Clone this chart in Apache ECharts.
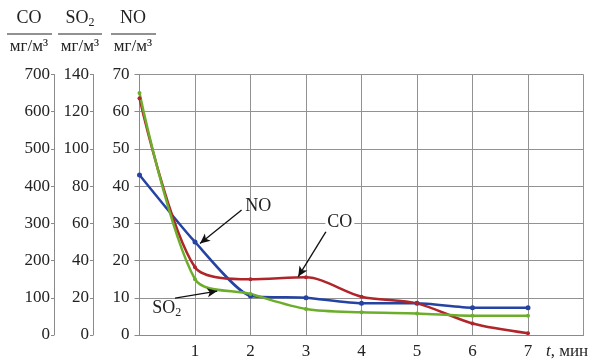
<!DOCTYPE html>
<html>
<head>
<meta charset="utf-8">
<script src="https://cdn.jsdelivr.net/npm/echarts@6/dist/echarts.min.js"></script>
<style>
  html, body { margin: 0; padding: 0; background: #fff; }
  #chart { width: 592px; height: 361px; }
</style>
</head>
<body>
<div id="chart"></div>
<script>
// data (t in minutes)
const timeValues = [0, 1, 2, 3, 4, 5, 6, 7]
const noValues = [43, 25, 10.5, 10, 8.5, 8.5, 7.3, 7.3]        // мг/м3, NO axis 0..70
const so2Values = [130, 30, 22, 14, 12.2, 11.6, 10.4, 10.3]    // мг/м3, SO2 axis 0..140
const coValues = [636, 182, 150, 155, 103, 85, 31, 5]          // мг/м3, CO axis 0..700
const xTickLabels = ['1', '2', '3', '4', '5', '6', '7']

const FONT = '"Liberation Serif", "DejaVu Serif", serif'
const AXIS_GRAY = '#8a8a8a'

const pairs = (vals) => timeValues.map((t, i) => [t, vals[i]])

const chart = echarts.init(document.getElementById('chart'))

// side axes (SO2 / CO) share the same look
const sideAxis = (max, interval, offset) => ({
  type: 'value',
  position: 'left',
  min: 0,
  max: max,
  interval: interval,
  offset: offset,
  axisLine: { show: true, lineStyle: { color: AXIS_GRAY, width: 1 } },
  axisTick: { show: true, length: 3, lineStyle: { color: AXIS_GRAY } },
  axisLabel: { margin: 4, fontFamily: FONT, fontSize: 17, color: '#222' },
  splitLine: { show: false }
})

const option = {
  animation: false,
  grid: { left: 139.5, right: 8.5, top: 74.5, bottom: 26 },
  xAxis: {
    type: 'value',
    min: 0,
    max: 8,
    interval: 1,
    axisLine: { show: true, onZero: false, lineStyle: { color: AXIS_GRAY } },
    axisTick: { show: false },
    axisLabel: {
      margin: 8,
      fontFamily: FONT,
      fontSize: 17,
      color: '#222',
      formatter: (v) => (xTickLabels.indexOf(String(v)) >= 0 ? String(v) : '')
    },
    splitLine: { show: true, lineStyle: { color: '#929292', width: 1 } }
  },
  yAxis: [
    {
      type: 'value',
      position: 'left',
      min: 0,
      max: 70,
      interval: 10,
      axisLine: { show: true, lineStyle: { color: AXIS_GRAY } },
      axisTick: { show: true, length: 5, lineStyle: { color: AXIS_GRAY } },
      axisLabel: { margin: 10, fontFamily: FONT, fontSize: 17, color: '#222' },
      splitLine: { show: true, lineStyle: { color: '#929292', width: 1 } }
    },
    sideAxis(140, 20, 46.5),
    sideAxis(700, 100, 85.5)
  ],
  series: [
    {
      name: 'NO',
      type: 'line',
      yAxisIndex: 0,
      data: pairs(noValues),
      smooth: 0.2,
      symbol: 'circle',
      symbolSize: 5,
      itemStyle: { color: '#2443a2' },
      lineStyle: { color: '#2443a2', width: 2.5 },
      markLine: {
        silent: true,
        symbol: ['none', 'arrow'],
        symbolSize: [7, 10],
        label: { show: false },
        lineStyle: { color: '#111', width: 1.3, type: 'solid' },
        data: [
          [{ coord: [1.84, 33.6] }, { coord: [1.09, 24.6] }],
          [{ coord: [3.36, 27.8] }, { coord: [2.86, 15.7] }],
          [{ coord: [0.64, 9.9] }, { coord: [1.4, 11.8] }]
        ]
      }
    },
    {
      name: 'CO',
      type: 'line',
      yAxisIndex: 2,
      data: pairs(coValues),
      smooth: 0.3,
      symbol: 'circle',
      symbolSize: 4,
      itemStyle: { color: '#b0252a' },
      lineStyle: { color: '#b0252a', width: 2.5 }
    },
    {
      name: 'SO2',
      type: 'line',
      yAxisIndex: 1,
      data: pairs(so2Values),
      smooth: 0.3,
      symbol: 'circle',
      symbolSize: 4,
      itemStyle: { color: '#6cae2c' },
      lineStyle: { color: '#6cae2c', width: 2.5 }
    }
  ]
}

chart.setOption(option)

// header (name over unit, like a fraction) + annotations
const richSub = {
  n: { fontFamily: FONT, fontSize: 18, fill: '#222' },
  s: { fontFamily: FONT, fontSize: 12, fill: '#222', padding: [9, 0, 0, 0] }
}

const header = [
  { name: '{n|CO}', cx: 29, x1: 7, x2: 52 },
  { name: '{n|SO}{s|2}', cx: 80, x1: 58, x2: 102 },
  { name: '{n|NO}', cx: 133, x1: 111, x2: 156 }
]

const graphics = []
header.forEach((h) => {
  graphics.push({
    type: 'text', x: h.cx, y: 18,
    style: { text: h.name, rich: richSub, align: 'center', verticalAlign: 'middle' }
  })
  graphics.push({
    type: 'line', shape: { x1: h.x1, y1: 34, x2: h.x2, y2: 34 },
    style: { stroke: '#222', lineWidth: 1 }
  })
  graphics.push({
    type: 'text', x: h.cx, y: 47,
    style: {
      text: 'мг/м³', fontFamily: FONT, fontSize: 17, fill: '#222',
      align: 'center', verticalAlign: 'middle'
    }
  })
})

// annotation labels in data coordinates (t, NO units)
const notes = [
  { text: '{n|NO}', at: [2.14, 34.5], bg: null },
  { text: '{n|CO}', at: [3.61, 30.2], bg: '#fff' },
  { text: '{n|SO}{s|2}', at: [0.49, 7.2], bg: null }
]
notes.forEach((n) => {
  const p = chart.convertToPixel({ xAxisIndex: 0, yAxisIndex: 0 }, n.at)
  graphics.push({
    type: 'text', x: p[0], y: p[1], z: 10,
    style: {
      text: n.text, rich: richSub, align: 'center', verticalAlign: 'middle',
      backgroundColor: n.bg || 'transparent', padding: [0, 2]
    }
  })
})

// x axis name
graphics.push({
  type: 'text', x: 546, y: 352,
  style: {
    text: '{i|t}{n|, мин}',
    rich: {
      i: { fontFamily: FONT, fontSize: 17, fontStyle: 'italic', fill: '#222' },
      n: { fontFamily: FONT, fontSize: 17, fill: '#222' }
    },
    align: 'left', verticalAlign: 'middle'
  }
})

chart.setOption({ graphic: graphics })
</script>
</body>
</html>
